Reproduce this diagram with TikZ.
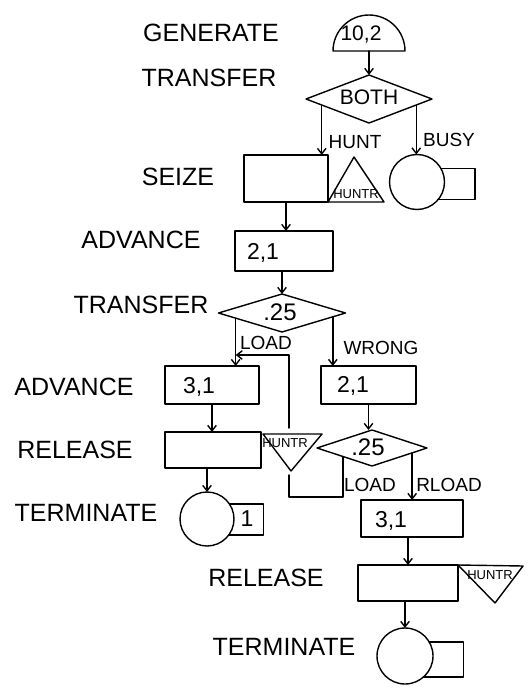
\documentclass[tikz,border=0pt]{standalone}
\usepackage{fontspec}
\setmainfont{Liberation Sans}
\usetikzlibrary{arrows.meta,shapes.geometric,calc}
\begin{document}
\begin{tikzpicture}[x=1pt,y=-1pt, line width=1.4pt, line cap=round, line join=round,
 flow/.style={-{Straight Barb[length=5.5pt,width=8.5pt]}},
 blk/.style={draw, rectangle, inner sep=0pt, outer sep=0pt},
 circ/.style={draw, circle, inner sep=0pt, outer sep=0pt},
 dia/.style={draw, diamond, inner sep=0pt, outer sep=0pt},
 lbl/.style={font=\fontsize{25}{25}\selectfont, inner sep=0pt, text depth=0pt},
 flowlbl/.style={font=\fontsize{19}{19}\selectfont, inner sep=0pt, text depth=0pt},
 val/.style={font=\fontsize{23}{23}\selectfont, inner sep=0pt, text depth=0pt},
 tinylbl/.style={font=\fontsize{13}{13}\selectfont, inner sep=0pt, text depth=0pt}]
\useasboundingbox (0,0) rectangle (530,688);

% ---- block labels (left)
\node[lbl] (lgen) at (211,33) {GENERATE};
\node[lbl] (ltr1) at (209,78) {TRANSFER};
\node[lbl] (lsei) at (178,177) {SEIZE};
\node[lbl] (ladv1) at (141,240) {ADVANCE};
\node[lbl] (ltr2) at (141,305) {TRANSFER};
\node[lbl] (ladv2) at (74,387) {ADVANCE};
\node[lbl] (lrel1) at (75,450) {RELEASE};
\node[lbl] (lterm1) at (86,513) {TERMINATE};
\node[lbl] (lrel2) at (266,578) {RELEASE};
\node[lbl] (lterm2) at (284,647) {TERMINATE};

% ---- GENERATE
\coordinate (gen) at (369,51);
\draw (333,51) arc[start angle=180, end angle=360, radius=36] -- cycle;
\node[val, font=\fontsize{21}{21}\selectfont] (gentxt) at (361,33) {10,2};

% ---- TRANSFER BOTH
\node[dia, minimum width=126pt, minimum height=48pt] (both) at (369,99) {};
\node[val, font=\fontsize{21}{21}\selectfont] (bothtxt) at (369,97) {BOTH};
\draw[flow] (gen) -- (both.north);

% ---- SEIZE
\node[blk, minimum width=84pt, minimum height=47pt] (seize) at (286,178.5) {};
\draw (seize.south east) -- (354,157) -- (384,202) -- cycle;
\node[tinylbl] (huntr1) at (356,194) {HUNTR};

% ---- BUSY circle
\node[circ, minimum size=55pt] (busy) at (417,182) {};
\draw (busy.30) -- ++(34,0) |- (busy.-40);

\coordinate (bl) at ($(both.west)!0.25!(both.south)$);
\coordinate (br) at ($(both.east)!0.25!(both.south)$);
\draw[flow] (bl) -- (bl |- seize.north);
\draw[flow] (br) -- (br |- busy.north);
\node[flowlbl] (lhunt) at (355,142) {HUNT};
\node[flowlbl] (lbusy) at (449,140) {BUSY};

% ---- ADVANCE 2,1
\node[blk, minimum width=98pt, minimum height=40pt] (adv1) at (284,251) {};
\node[val] (adv1txt) at (263,251) {2,1};
\draw[flow] (seize.south) -- (seize.south |- adv1.north);

% ---- TRANSFER .25
\node[dia, minimum width=127pt, minimum height=38pt] (tr2) at (282,313) {};
\node[val, font=\fontsize{24}{24}\selectfont] (tr2txt) at (280,312) {.25};
\draw[flow] (tr2.north |- adv1.south) -- (tr2.north);

\coordinate (tl) at ($(tr2.west)!0.27!(tr2.south)$);
\coordinate (trr) at ($(tr2.east)!0.2!(tr2.south)$);

% ---- ADVANCE 3,1 (left) and 2,1 (right)
\node[blk, minimum width=94pt, minimum height=38pt] (adv2) at (212,385) {};
\node[val] (adv2txt) at (199,385) {3,1};
\node[blk, minimum width=95pt, minimum height=38pt] (wrong) at (368.5,385) {};
\node[val] (wrongtxt) at (353,384) {2,1};
\draw[flow] (tl) -- (tl |- adv2.north);
\draw[flow] (trr) -- (trr |- wrong.north);
\node[flowlbl] (lload1) at (266,343) {LOAD};
\node[flowlbl] (lwrong) at (381,348) {WRONG};

% ---- RELEASE (left)
\node[blk, minimum width=96pt, minimum height=36pt] (rel1) at (213,450) {};
\draw[flow] (adv2.south) -- (adv2.south |- rel1.north);
\draw (263,434) -- (322,434) -- (291,471) -- cycle;
\node[tinylbl] (huntr2) at (285,443) {HUNTR};

% ---- return path
\coordinate (rtop) at (289,428);
\coordinate (rcorner) at (289,355);
\draw[flow] (rtop) -- (rcorner) -- (tl |- rcorner);

% ---- TERMINATE (left)
\node[circ, minimum size=54pt] (term1) at (207,519) {};
\draw[flow] (term1.north |- rel1.south) -- (term1.north);
\draw (term1.34) -- ++(34,0) |- (term1.-36);
\node[val] (term1txt) at (247,519) {1};

% ---- TRANSFER .25 (lower)
\node[dia, minimum width=110pt, minimum height=36pt] (d2) at (372,448) {};
\node[val, font=\fontsize{24}{24}\selectfont] (d2txt) at (368,447) {.25};
\draw[flow] (wrong.south) -- (wrong.south |- d2.north);
\coordinate (d2l) at ($(d2.west)!0.47!(d2.south)$);
\coordinate (d2r) at ($(d2.east)!0.27!(d2.south)$);
\coordinate (lpr) at (d2l |- 0,497);
\coordinate (lpl) at (289,497);
\coordinate (lpt) at (289,475);
\draw (d2l) -- (lpr) -- (lpl) -- (lpt);
\node[flowlbl] (lload2) at (370,485) {LOAD};
\node[flowlbl] (lrload) at (449,485) {RLOAD};

% ---- ADVANCE 3,1 (right)
\node[blk, minimum width=102pt, minimum height=37pt] (r31) at (412,518.5) {};
\node[val] (r31txt) at (391,519) {3,1};
\draw[flow] (d2r) -- (d2r |- r31.north);

% ---- RELEASE (right)
\node[blk, minimum width=100pt, minimum height=36pt] (rel2) at (408,583) {};
\draw[flow] (rel2.north |- r31.south) -- (rel2.north);
\draw (rel2.north east) -- (523,566) -- (495,603) -- cycle;
\node[tinylbl] (huntr3) at (490,575) {HUNTR};

% ---- TERMINATE (right)
\node[circ, minimum size=56pt] (term2) at (405,656) {};
\draw[flow] (term2.north |- rel2.south) -- (term2.north);
\draw (term2.30) -- ++(34,0) |- (term2.-49);
\end{tikzpicture}
\end{document}
